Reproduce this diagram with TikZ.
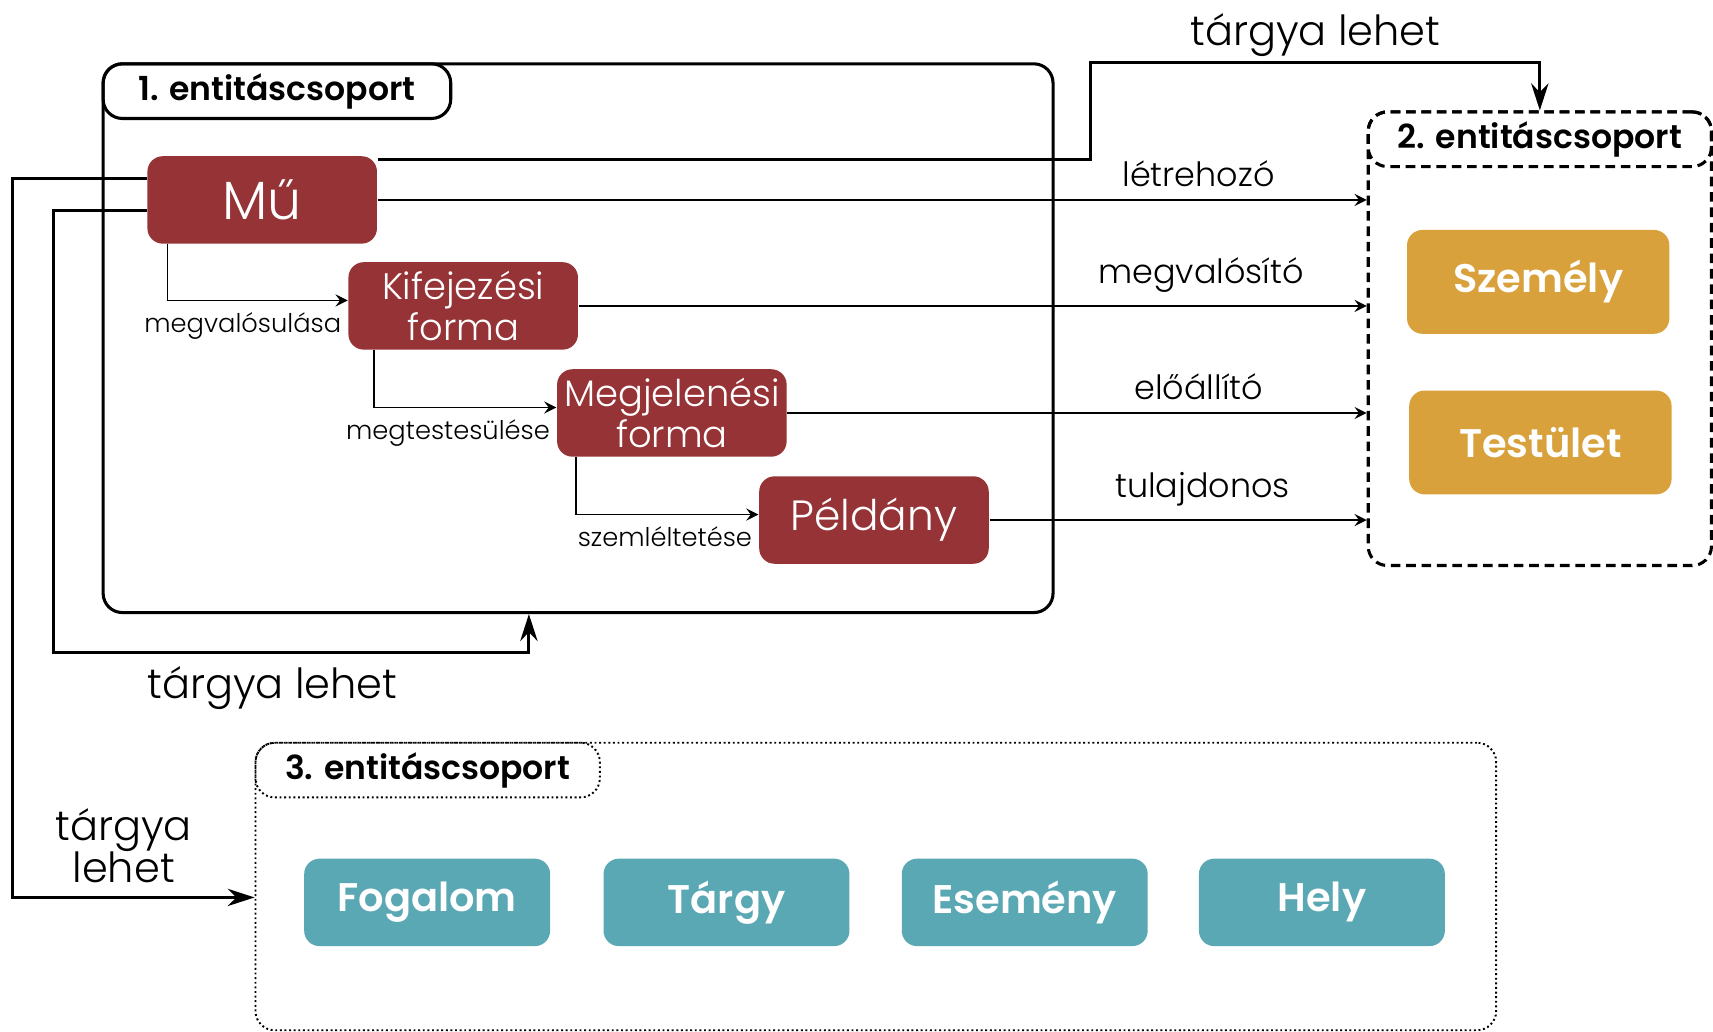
\documentclass[tikz,border=0pt]{standalone}
\usepackage{fontspec}
\setmainfont{Poppins}[UprightFont=* Light,BoldFont=* SemiBold]
\usetikzlibrary{arrows.meta}
\definecolor{workred}{HTML}{953336}
\definecolor{agentgold}{HTML}{D9A13B}
\definecolor{subjteal}{HTML}{5BA8B5}

\begin{document}
\begin{tikzpicture}[x=0.01cm,y=-0.01cm,>=stealth,line width=0.4pt]
\tikzstyle{group}=[rectangle,draw,rounded corners=5pt,line width=0.8pt,inner sep=0pt,anchor=north west]
\tikzstyle{tab}=[group,font=\fontsize{8.6}{10}\selectfont\bfseries]
\tikzstyle{block}=[rectangle,rounded corners=4pt,fill=workred,text=white,align=center,minimum width=2.1cm,minimum height=0.8cm,inner sep=0pt,font=\fontsize{9.6}{8.3}\selectfont]
\tikzstyle{agent}=[block,fill=agentgold,minimum width=2.4cm,minimum height=0.95cm,font=\fontsize{10.4}{12}\selectfont\bfseries]
\tikzstyle{subject}=[block,fill=subjteal,minimum width=2.25cm,minimum height=0.8cm,font=\fontsize{10.4}{12}\selectfont\bfseries]
\tikzstyle{rel}=[font=\fontsize{6.7}{8}\selectfont,inner xsep=1.5pt,inner ysep=3pt]
\tikzstyle{role}=[font=\fontsize{8.7}{10}\selectfont]
\tikzstyle{link}=[line width=0.8pt,-{Stealth[length=7pt,width=4.5pt]}]
\tikzstyle{linklabel}=[font=\fontsize{10.8}{11}\selectfont,align=center]

\useasboundingbox (0,0) rectangle (1568,944);

% entity groups
\node[group,minimum width=8.69cm,minimum height=5.02cm] (g1) at (93,57) {};
\node[tab,minimum width=3.18cm,minimum height=0.5cm] (t1) at (g1.north west) {1. entitáscsoport};
\node[group,dash pattern=on 2.5pt off 1.5pt,minimum width=3.14cm,minimum height=4.15cm] (g2) at (1251,101) {};
\node[tab,dash pattern=on 2.5pt off 1.5pt,minimum width=3.14cm,minimum height=0.5cm] (t2) at (g2.north west) {2. entitáscsoport};
\node[group,line width=0.5pt,dash pattern=on 0.5pt off 0.7pt,minimum width=11.35cm,minimum height=2.63cm] (g3) at (233,679) {};
\node[tab,line width=0.5pt,dash pattern=on 0.5pt off 0.7pt,minimum width=3.15cm,minimum height=0.5cm] (t3) at (g3.north west) {3. entitáscsoport};

% group 1
\node[block,font=\fontsize{14}{14}\selectfont] (mu) at (240,183) {Mű};
\node[block] (kif) at (424,280) {Kifejezési\\forma};
\node[block] (megj) at (615,378) {Megjelenési\\forma};
\node[block,font=\fontsize{11}{11}\selectfont] (pel) at (800,476) {Példány};

% group 2
\node[agent] (szem) at (1408,258) {Személy};
\node[agent] (test) at (1410,405) {Testület};

% group 3
\node[subject] (fog) at (391,826) {Fogalom};
\node[subject] (targy) at (665,826) {Tárgy};
\node[subject] (esem) at (938,826) {Esemény};
\node[subject] (hely) at (1210,826) {Hely};

% chain inside group 1
\draw[->] ([xshift=0.19cm]mu.south west) |- ([yshift=0.05cm]kif.west) node[pos=1,anchor=north east,rel]{megvalósulása};
\draw[->] ([xshift=0.24cm]kif.south west) |- ([yshift=0.05cm]megj.west) node[pos=1,anchor=north east,rel]{megtestesülése};
\draw[->] ([xshift=0.18cm]megj.south west) |- ([yshift=0.05cm]pel.west) node[pos=1,anchor=north east,rel]{szemléltetése};

% roles towards group 2
\draw[->] (mu.east) -- (mu.east -| g2.west) node[pos=0.83,above,role]{létrehozó};
\draw[->] (kif.east) -- (kif.east -| g2.west) node[pos=0.79,above,role]{megvalósító};
\draw[->] (megj.east) -- (megj.east -| g2.west) node[pos=0.71,above,role]{előállító};
\draw[->] (pel.east) -- (pel.east -| g2.west) node[pos=0.565,above,role]{tulajdonos};

% subject links
\draw[link] ([yshift=-0.04cm]mu.north east) -| ([xshift=0.33cm]g1.north east) -| node[pos=0.25,above,inner sep=1pt,linklabel]{tárgya lehet} (g2.north);
\draw[link] ([yshift=0.2cm]mu.west) -- ++(-123,0) |- node[pos=0.73,above,linklabel]{tárgya\\lehet} ([yshift=-0.1cm]g3.west);
\draw[link] ([yshift=-0.1cm]mu.west) -- ++(-85,0) |- ([xshift=-0.45cm,yshift=-0.35cm]g1.south) node[pos=0.73,below,linklabel]{tárgya lehet} -- ([xshift=-0.45cm]g1.south);
\end{tikzpicture}
\end{document}
